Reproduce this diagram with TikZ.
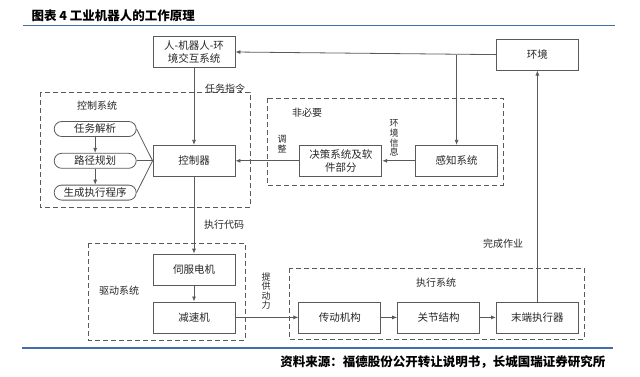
\documentclass[tikz,border=0pt]{standalone}
\usepackage{fontspec}
\setmainfont{Noto Sans CJK SC}
\usetikzlibrary{positioning, arrows.meta}
\definecolor{linegray}{HTML}{5A5A5A}
\definecolor{rulblue}{HTML}{3F6FA6}
\tikzset{every node/.style={node distance=16pt, text=black!85}}

\begin{document}
\begin{tikzpicture}[x=1pt, y=-1pt,
    block/.style={draw=linegray, line width=0.8pt, minimum width=82pt, minimum height=31pt,
        align=center, font=\fontsize{10.5}{12.5}\selectfont},
    pill/.style={draw=linegray, line width=0.8pt, minimum width=82pt, minimum height=15pt,
        inner sep=0pt, rounded corners=7.5pt, font=\fontsize{10.5}{12}\selectfont},
    frame/.style={draw=linegray, line width=0.8pt, dash pattern=on 5pt off 3pt},
    flow/.style={draw=linegray, line width=0.8pt, -{Latex[length=5pt,width=4pt]}},
    link/.style={draw=linegray, line width=0.8pt},
    tag/.style={font=\fontsize{10}{12}\selectfont},
    vtag/.style={align=center, inner sep=0pt, font=\fontsize{9}{9.6}\selectfont}]

    \useasboundingbox (0,0) rectangle (640,376);

    % Heading and rules
    \node[anchor=west, font=\bfseries\fontsize{12.5}{14}\selectfont, text=black] (title) at (28,16) {图表 4 工业机器人的工作原理};
    \draw[rulblue, line width=1.5pt] (23,25.5) -- (615,25.5);
    \draw[rulblue, line width=1.5pt] (22,348) -- (613,348);
    \node[anchor=east, font=\bfseries\fontsize{12.5}{14}\selectfont, text=black] (source) at (609,362) {资料来源：福德股份公开转让说明书，长城国瑞证券研究所};

    % Frames
    \draw[frame] (40,92) rectangle (250,207);
    \draw[frame] (267,98) rectangle (503,185);
    \draw[frame] (88,243) rectangle (245,340);
    \draw[frame] (289,268) rectangle (584,339);
    \node[tag] (ctrlsys) at (97,106) {控制系统};
    \node[tag] (optional) at (307,113) {非必要};
    \node[tag] (drivesys) at (119,291) {驱动系统};
    \node[tag] (execsys) at (436,283) {执行系统};

    % Boxes
    \node[block] (human) at (194,52) {人-机器人-环\\境交互系统};
    \node[block] (ctrl) [below=77pt of human] {控制器};
    \node[pill] (path) [left=of ctrl] {路径规划};
    \node[pill] (task) [above=of path] {任务解析};
    \node[pill] (gen) [below=of path] {生成执行程序};
    \node[block] (decide) [right=64pt of ctrl] {决策系统及软\\件部分};
    \node[block] (sense) [right=33pt of decide] {感知系统};
    \node[block] (servo) [below=77pt of ctrl] {伺服电机};
    \node[block] (reducer) [below=of servo] {减速机};
    \node[block] (trans) [right=63pt of reducer] {传动机构};
    \node[block] (joint) [right=of trans] {关节结构};
    \node[block] (endeff) [right=of joint] {末端执行器};
    \node[block] (env) [above=231pt of endeff] {环境};

    % Connections
    \coordinate (split) at (sense.north |- env.west);
    \draw[flow] (env.west) -- (human.east);
    \draw[flow] (split) -- (sense.north);
    \draw[flow] (human) -- (ctrl);
    \draw[link] (task.east) -- (ctrl.west);
    \draw[link] (path.east) -- (ctrl.west);
    \draw[link] (gen.east) -- (ctrl.west);
    \draw[flow] (task) -- (path);
    \draw[flow] (path) -- (gen);
    \draw[flow] (decide) -- (ctrl);
    \draw[flow] (sense) -- (decide);
    \draw[flow] (ctrl) -- (servo);
    \draw[flow] (servo) -- (reducer);
    \draw[flow] (reducer) -- (trans);
    \draw[flow] (trans) -- (joint);
    \draw[flow] (joint) -- (endeff);
    \draw[flow] (endeff) -- (env);

    % Labels on connections
    \node[tag] (order) at (225,89) {任务指令};
    \node[tag] (code) at (224,225) {执行代码};
    \node[tag] (done) at (503,244) {完成作业};
    \node[vtag] (adjust) at (282,144) {调\\整};
    \node[vtag] (envinfo) at (394,138) {环\\境\\信\\息};
    \node[vtag] (power) at (266,291) {提\\供\\动\\力};

\end{tikzpicture}
\end{document}
